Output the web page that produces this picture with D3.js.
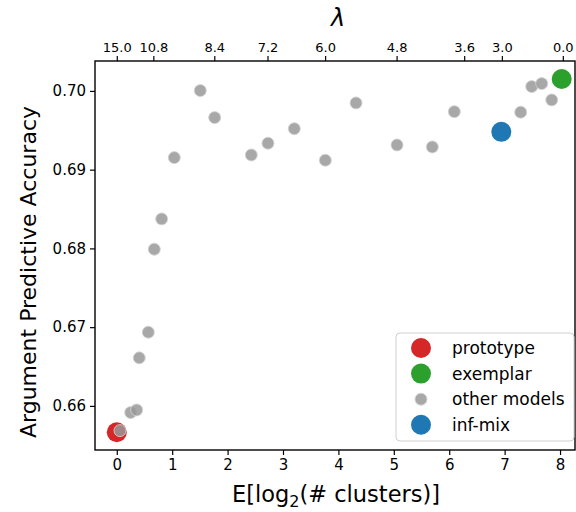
<!DOCTYPE html>
<html>
<head>
<meta charset="utf-8">
<script src="https://cdn.jsdelivr.net/npm/d3@7"></script>
<style>
  body { margin: 0; background: #fff; }
  svg { display: block; font-family: "DejaVu Sans", sans-serif; }
</style>
</head>
<body>
<svg id="chart" width="576" height="512"></svg>
<script>
// ---- data ----
const prototypeX = [0.0];
const prototypeY = [0.65666];
const exemplarX = [8.03];
const exemplarY = [0.70152];
const infmixX = [6.94];
const infmixY = [0.6948];
const otherX = [0.058, 0.251, 0.359, 0.406, 0.569, 0.677, 0.810, 1.038, 1.507, 1.767, 2.428, 2.729, 3.204, 3.764, 4.318, 5.058, 5.695, 6.092, 7.29, 7.489, 7.67, 7.85];
const otherY = [0.65686, 0.65915, 0.65949, 0.6661, 0.66936, 0.6799, 0.68375, 0.69153, 0.70004, 0.69661, 0.69187, 0.69336, 0.69521, 0.6912, 0.69848, 0.69314, 0.69289, 0.69737, 0.6973, 0.70055, 0.70093, 0.69886];
const xTicks = [0, 1, 2, 3, 4, 5, 6, 7, 8];
const yTicks = [0.66, 0.67, 0.68, 0.69, 0.70];
const lambdaPos = [0.0, 0.66, 1.76, 2.72, 3.76, 5.05, 6.27, 6.95, 8.05];
const lambdaLabels = ["15.0", "10.8", "8.4", "7.2", "6.0", "4.8", "3.6", "3.0", "0.0"];
const legendLabels = ["prototype", "exemplar", "other models", "inf-mix"];
const colors = { prototype: "#d62728", exemplar: "#2ca02c", other: "#a0a0a0", infmix: "#1f77b4" };

// ---- layout ----
const L = 95, R = 575, T = 61, B = 450;
const svg = d3.select("#chart");
const x = d3.scaleLinear().domain([-0.393, 8.27]).range([L, R]);
const y = d3.scaleLinear().domain([0.6544, 0.7038]).range([B, T]);

// axes
const xAxis = svg.append("g").attr("transform", `translate(0,${B})`)
  .call(d3.axisBottom(x).tickValues(xTicks).tickFormat(d3.format("d")).tickSize(5).tickPadding(4));
const yAxis = svg.append("g").attr("transform", `translate(${L},0)`)
  .call(d3.axisLeft(y).tickValues(yTicks).tickFormat(d3.format(".2f")).tickSize(5).tickPadding(4));
const topAxis = svg.append("g").attr("transform", `translate(0,${T})`)
  .call(d3.axisTop(x).tickValues(lambdaPos).tickFormat((d, i) => lambdaLabels[i]).tickSize(5).tickPadding(4));

[xAxis, yAxis].forEach(g => g.selectAll("text").attr("font-size", 15).attr("fill", "#000").attr("font-family", "DejaVu Sans"));
topAxis.selectAll("text").attr("font-size", 13).attr("fill", "#000").attr("font-family", "DejaVu Sans");
[xAxis, yAxis, topAxis].forEach(g => {
  g.select(".domain").remove();
  g.selectAll(".tick line").attr("stroke", "#000").attr("stroke-width", 1.2);
});

// frame
svg.append("rect").attr("x", L).attr("y", T).attr("width", R - L).attr("height", B - T)
  .attr("fill", "none").attr("stroke", "#000").attr("stroke-width", 1.4);

// points
const pts = svg.append("g");
function plot(xs, ys, r, fill, opts) {
  pts.selectAll(null).data(xs.map((d, i) => [d, ys[i]])).enter().append("circle")
    .attr("cx", d => x(d[0])).attr("cy", d => y(d[1])).attr("r", r)
    .attr("fill", fill)
    .attr("fill-opacity", opts.op)
    .attr("stroke", opts.stroke || "none")
    .attr("stroke-width", opts.sw || 0)
    .attr("stroke-opacity", opts.op);
}
plot(prototypeX, prototypeY, 10, colors.prototype, { op: 1 });
plot(exemplarX, exemplarY, 10, colors.exemplar, { op: 1 });
plot(otherX, otherY, 6, "#999999", { op: 0.85, stroke: "#d4d4d4", sw: 1 });
plot(infmixX, infmixY, 10, colors.infmix, { op: 1 });

// axis labels
svg.append("text").attr("x", 336).attr("y", 502).attr("text-anchor", "middle")
  .attr("font-size", 22.5).attr("fill", "#000")
  .html('E[log<tspan font-size="16" dy="5">2</tspan><tspan dy="-5">(# clusters)]</tspan>');
svg.append("text").attr("transform", `translate(36,272) rotate(-90)`)
  .attr("text-anchor", "middle").attr("font-size", 22).attr("fill", "#000")
  .text("Argument Predictive Accuracy");
svg.append("text").attr("x", 338).attr("y", 26).attr("text-anchor", "middle")
  .attr("font-size", 24).attr("font-style", "italic").attr("fill", "#000").text("λ");

// legend
const lg = svg.append("g");
lg.append("rect").attr("x", 396).attr("y", 333).attr("width", 178).attr("height", 108)
  .attr("rx", 4).attr("fill", "#fff").attr("fill-opacity", 0.8).attr("stroke", "#d0d0d0").attr("stroke-width", 1);
const legendStyle = [
  { r: 10, fill: colors.prototype, op: 1 },
  { r: 10, fill: colors.exemplar, op: 1 },
  { r: 6, fill: "#999999", op: 0.85, stroke: "#d4d4d4" },
  { r: 10, fill: colors.infmix, op: 1 }
];
legendLabels.forEach((lab, i) => {
  const cy = 348 + i * 25.6;
  const s = legendStyle[i];
  lg.append("circle").attr("cx", 421).attr("cy", cy).attr("r", s.r).attr("fill", s.fill)
    .attr("fill-opacity", s.op).attr("stroke", s.stroke || "none").attr("stroke-width", s.stroke ? 1 : 0);
  lg.append("text").attr("x", 452).attr("y", cy).attr("dy", "0.35em")
    .attr("font-size", 17).attr("fill", "#000").text(lab);
});
</script>
</body>
</html>
